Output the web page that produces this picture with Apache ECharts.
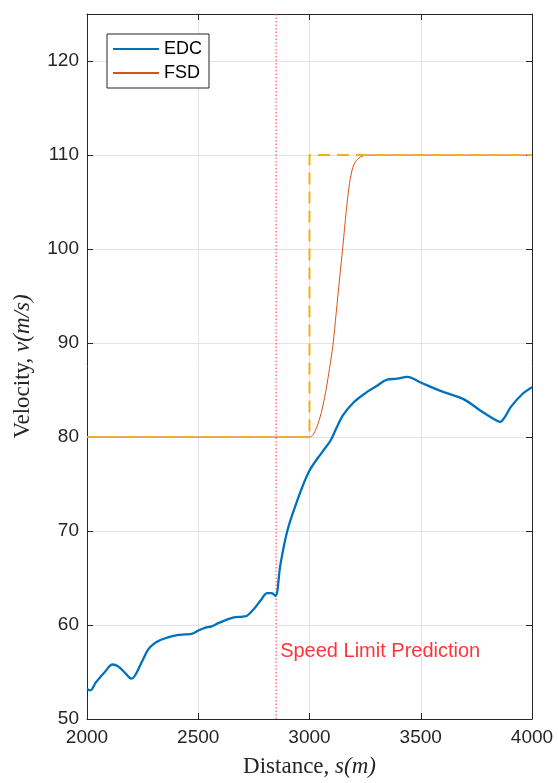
<!DOCTYPE html>
<html>
<head>
<meta charset="utf-8">
<script src="https://cdn.jsdelivr.net/npm/echarts@6/dist/echarts.min.js"></script>
<style>html,body{margin:0;padding:0;background:#fff}#c{width:558px;height:783px}</style>
</head>
<body>
<div id="c"></div>
<script>
// Distance (m), velocity (m/s)
var edcData = [
  [2000,53.2],[2015,53.05],[2040,53.9],[2080,55.0],[2115,55.8],[2140,55.6],[2175,54.8],[2200,54.3],
  [2215,54.6],[2245,56.0],[2275,57.4],[2300,58.0],[2330,58.4],[2360,58.65],[2400,58.9],[2440,59.0],
  [2470,59.05],[2500,59.4],[2530,59.7],[2560,59.85],[2590,60.2],[2620,60.5],[2660,60.8],[2700,60.9],
  [2720,61.0],[2750,61.7],[2780,62.6],[2810,63.4],[2830,63.4],[2847,63.1],[2869,66.4],[2899,69.9],
  [2937,72.7],[2997,76.3],[3057,78.4],[3094,79.6],[3120,80.9],[3150,82.3],[3199,83.7],[3259,84.8],
  [3300,85.4],[3349,86.1],[3394,86.2],[3439,86.4],[3499,85.8],[3589,84.9],[3694,84.0],[3769,82.8],
  [3830,81.9],[3856,81.6],[3880,82.2],[3905,83.2],[3958,84.6],[4000,85.3]
];
var fsdData = [
  [2000,80],[3000,80],[3015,80.2],[3030,80.9],[3045,81.9],[3060,83.3],[3075,85.1],[3090,87.3],
  [3105,89.7],[3120,93.2],[3135,96.8],[3150,100.3],[3165,104.0],[3180,107.0],[3195,108.7],
  [3210,109.4],[3230,109.8],[3260,110],[3290,110],[4000,110]
];
var limitData = [[2000,80],[3000,80],[3000,110],[4000,110]];
var predictionX = 2850;
var yRange = [50,125];
var xRange = [2000,4000];
var labelPoint = [[2868,57.2]];
var labelText = 'Speed Limit Prediction';

var chart = echarts.init(document.getElementById('c'), null, {renderer:'canvas'});
var axisCol = '#262626';
var tickFont = {fontFamily:'Liberation Sans, Arial, sans-serif', fontSize:19, color:axisCol};
var serif = 'Liberation Serif, Times New Roman, serif';
var nameRich = {a:{fontFamily:serif,fontSize:23,color:axisCol},b:{fontFamily:serif,fontSize:23,fontStyle:'italic',color:axisCol}};
chart.setOption({
  animation:false,
  backgroundColor:'#fff',
  grid:{left:87,right:26,top:14,bottom:62},
  legend:{
    orient:'vertical', left:107, top:34,
    padding:[6,7,6,5], itemWidth:46, itemHeight:18, itemGap:6,
    borderColor:axisCol, borderWidth:1, backgroundColor:'#fff',
    itemStyle:{color:'rgba(0,0,0,0)', borderWidth:0, opacity:0},
    textStyle:{fontFamily:'Liberation Sans, Arial, sans-serif', fontSize:18, color:'#000'},
    data:['EDC','FSD']
  },
  xAxis:[{
    type:'value', min:xRange[0], max:xRange[1], interval:500,
    name:'{a|Distance, }{b|s(m)}', nameLocation:'middle', nameGap:36,
    nameTextStyle:{rich:nameRich},
    axisLine:{show:true,lineStyle:{color:axisCol,width:1}},
    axisTick:{show:true,inside:true,length:6,lineStyle:{color:axisCol}},
    axisLabel:Object.assign({margin:9, formatter:function(v){return String(v);}},tickFont),
    splitLine:{show:true,lineStyle:{color:'#e3e3e3',width:1}}
  },{
    type:'value', position:'top', min:xRange[0], max:xRange[1], interval:500,
    axisLine:{show:true,lineStyle:{color:axisCol,width:1}},
    axisTick:{show:true,inside:true,length:6,lineStyle:{color:axisCol}},
    axisLabel:{show:false}, splitLine:{show:false}
  }],
  yAxis:[{
    type:'value', min:yRange[0], max:yRange[1], interval:10,
    name:'{a|Velocity, }{b|v(m/s)}', nameLocation:'middle', nameGap:53,
    nameTextStyle:{rich:nameRich},
    axisLine:{show:true,lineStyle:{color:axisCol,width:1}},
    axisTick:{show:true,inside:true,length:6,lineStyle:{color:axisCol}},
    axisLabel:Object.assign({margin:8, showMaxLabel:false, formatter:function(v){return String(v);}},tickFont),
    splitLine:{show:true,lineStyle:{color:'#e3e3e3',width:1}}
  },{
    type:'value', position:'right', min:yRange[0], max:yRange[1], interval:10,
    axisLine:{show:true,lineStyle:{color:axisCol,width:1}},
    axisTick:{show:true,inside:true,length:6,lineStyle:{color:axisCol}},
    axisLabel:{show:false}, splitLine:{show:false}
  }],
  series:[
    {name:'EDC', type:'line', data:edcData, showSymbol:false, symbol:'none', smooth:0.35,
     lineStyle:{color:'#0072BD',width:2.3}, itemStyle:{color:'#0072BD'}, z:3},
    {name:'FSD', type:'line', data:fsdData, showSymbol:false, symbol:'none', smooth:0.3,
     lineStyle:{color:'#D95319',width:1}, itemStyle:{color:'#D95319'}, z:4},
    {name:'limit', type:'line', data:limitData, showSymbol:false, symbol:'none',
     lineStyle:{color:'#EDB120',width:2,type:[12,7]}, z:5},
    {name:'pred', type:'line', data:[[predictionX,yRange[0]],[predictionX,yRange[1]]], showSymbol:false, symbol:'none',
     lineStyle:{color:'#ff3b3b',width:1,type:[1.5,2]}, z:2},
    {name:'txt', type:'scatter', data:labelPoint, symbolSize:0, z:6,
     label:{show:true, position:'right', distance:0, formatter:labelText,
       fontFamily:'Liberation Sans, Arial, sans-serif', fontSize:20, color:'#ff0000'}}
  ]
});
</script>
</body>
</html>
